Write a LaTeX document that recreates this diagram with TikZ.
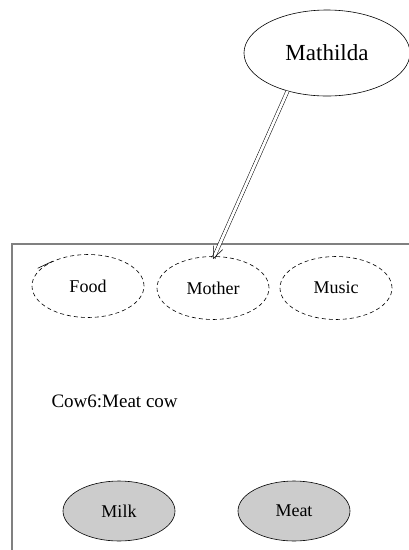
\documentclass[tikz,border=0pt]{standalone}
\usepackage{fontspec}
\setmainfont{Liberation Serif}
\usepackage{xcolor}
\definecolor{framegray}{HTML}{808080}
\definecolor{valuefill}{HTML}{CCCCCC}
\usetikzlibrary{shapes.geometric, arrows.meta, positioning, calc}

\begin{document}
\begin{tikzpicture}[
        x=1pt, y=-1pt,
        object_node/.style={
            ellipse,
            draw=black,
            line width=0.6pt,
            inner sep=0pt,
            minimum width=166pt,
            minimum height=86pt,
            font=\fontsize{23}{26}\selectfont
        },
        slot_node/.style={
            ellipse,
            draw=black,
            dash pattern=on 4pt off 3pt,
            line width=0.6pt,
            inner sep=0pt,
            minimum width=112pt,
            minimum height=63pt,
            text depth=0pt,
            font=\fontsize{18}{21}\selectfont
        },
        value_node/.style={
            ellipse,
            draw=black,
            fill=valuefill,
            line width=0.6pt,
            inner sep=0pt,
            minimum width=112pt,
            minimum height=60pt,
            text depth=0pt,
            font=\fontsize{18}{21}\selectfont
        },
        arrow/.style={
            -{Straight Barb[length=12pt, width=10pt]},
            draw=black,
            double,
            double distance=2.8pt,
            line width=0.5pt
        }
    ]

    \clip (0,0) rectangle (409,550);

    % Frame of the cow object
    \draw[framegray, line width=1.3pt] (12,560) -- (12,244) -- (420,244);

    % Mathilda
    \node[object_node] (mathilda) at (327,53) {Mathilda};

    % Slots
    \node[slot_node] (food) at (88,286) {Food};
    \node[slot_node] (mother) at (213,288) {Mother};
    \node[slot_node] (music) at (336,288) {Music};
    \draw[line width=0.6pt] (food.145) -- ++(-15,7);

    % Name
    \node[anchor=west, font=\fontsize{19}{22}\selectfont] (cowname) at (48,401) {Cow6:Meat cow};

    % Values
    \node[value_node] (milk) at (119,511) {Milk};
    \node[value_node] (meat) at (294,511) {Meat};

    % Link
    \draw[arrow] (mathilda.224) -- ([yshift=-3pt]mother.north);

\end{tikzpicture}
\end{document}
